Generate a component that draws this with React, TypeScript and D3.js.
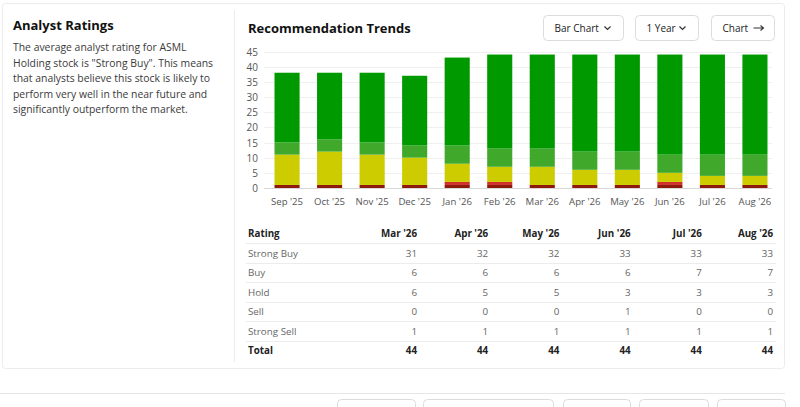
import React, { useRef, useEffect } from "react";
import * as d3 from "d3";

// Chart data
const months = [
  "Sep '25", "Oct '25", "Nov '25", "Dec '25", "Jan '26", "Feb '26",
  "Mar '26", "Apr '26", "May '26", "Jun '26", "Jul '26", "Aug '26",
];
const strongBuy = [23, 22, 23, 23, 29, 31, 31, 32, 32, 33, 33, 33];
const buy = [4, 4, 4, 4, 6, 6, 6, 6, 6, 6, 7, 7];
const hold = [10, 11, 10, 9, 6, 5, 6, 5, 5, 3, 3, 3];
const sell = [0, 0, 0, 0, 1, 1, 0, 0, 0, 1, 0, 0];
const strongSell = [1, 1, 1, 1, 1, 1, 1, 1, 1, 1, 1, 1];
const yTicks = [0, 5, 10, 15, 20, 25, 30, 35, 40, 45];

const ratingNames = ["Strong Buy", "Buy", "Hold", "Sell", "Strong Sell"];
const ratingSeries = [strongBuy, buy, hold, sell, strongSell];
const ratingColors = ["#009a00", "#40a92c", "#cccc00", "#d0312d", "#8e1a0e"];
const buttonLabels = ["Bar Chart", "1 Year", "Chart"];

const description = [
  "The average analyst rating for ASML",
  "Holding stock is \"Strong Buy\". This means",
  "that analysts believe this stock is likely to",
  "perform very well in the near future and",
  "significantly outperform the market.",
];

const font = "'Open Sans', 'Noto Sans', sans-serif";

const App: React.FC = () => {
  const svgRef = useRef<SVGSVGElement | null>(null);

  useEffect(() => {
    if (!svgRef.current) return;
    const svg = d3.select(svgRef.current);
    svg.selectAll("*").remove();

    // Card + dividers
    svg.append("rect").attr("x", 2.5).attr("y", 3.5).attr("width", 782).attr("height", 365)
      .attr("rx", 3).attr("fill", "#fff").attr("stroke", "#ececec");
    svg.append("line").attr("x1", 234.5).attr("x2", 234.5).attr("y1", 10).attr("y2", 362)
      .attr("stroke", "#ececec");
    svg.append("line").attr("x1", 0).attr("x2", 785).attr("y1", 393.5).attr("y2", 393.5)
      .attr("stroke", "#e6e6e6");

    // Bottom buttons (partly out of view)
    const bottomBtns = [[337, 415], [423, 553], [563, 630], [639, 708], [717, 785]];
    svg.append("g").selectAll("rect").data(bottomBtns).enter().append("rect")
      .attr("x", (d) => d[0] + 0.5).attr("y", 399.5)
      .attr("width", (d) => d[1] - d[0]).attr("height", 30)
      .attr("rx", 4).attr("fill", "#fff").attr("stroke", "#dcdcdc");

    // Left panel
    svg.append("text").attr("x", 13).attr("y", 30).text("Analyst Ratings")
      .attr("font-family", font).attr("font-size", 13).attr("font-weight", 700).attr("fill", "#111");
    svg.append("g").selectAll("text").data(description).enter().append("text")
      .attr("x", 13).attr("y", (_d, i) => 51 + i * 15.6)
      .text((d) => d)
      .attr("font-family", font).attr("font-size", 10.4).attr("fill", "#3a3a3a");

    // Title
    svg.append("text").attr("x", 248).attr("y", 33).text("Recommendation Trends")
      .attr("font-family", font).attr("font-size", 13).attr("font-weight", 700).attr("fill", "#111");

    // Top buttons
    const btnX = [543, 635, 711];
    const btnW = [80, 63, 63];
    const btn = svg.append("g").selectAll("g").data(buttonLabels).enter().append("g")
      .attr("transform", (_d, i) => `translate(${btnX[i] + 0.5},15.5)`);
    btn.append("rect").attr("width", (_d, i) => btnW[i]).attr("height", 25).attr("rx", 4)
      .attr("fill", "#fff").attr("stroke", "#dcdcdc");
    btn.append("text")
      .attr("x", 11)
      .attr("y", 16.3)
      .text((d) => d)
      .attr("font-family", font).attr("font-size", 10).attr("fill", "#222");
    btn.filter((_d, i) => i < 2).append("path")
      .attr("d", (_d, i) => {
        const cx = btnW[i] - 16;
        return `M${cx - 3},11 L${cx},14 L${cx + 3},11`;
      })
      .attr("fill", "none").attr("stroke", "#333").attr("stroke-width", 1.2);
    // arrow on the last button
    btn.filter((_d, i) => i === 2).append("path")
      .attr("d", "M42,12.5 L52,12.5 M49,10 L52,12.5 L49,15")
      .attr("fill", "none").attr("stroke", "#333").attr("stroke-width", 1.1);

    // Scales
    const x = d3.scaleBand<string>().domain(months).range([266, 776])
      .paddingInner(0.41).paddingOuter(0.2);
    const y = d3.scaleLinear().domain([0, 45]).range([188, 51.5]);

    // Grid
    svg.append("g").selectAll("line").data(yTicks).enter().append("line")
      .attr("x1", 264).attr("x2", 772)
      .attr("y1", (d) => Math.round(y(d)) + 0.5).attr("y2", (d) => Math.round(y(d)) + 0.5)
      .attr("stroke", (d) => (d === 0 ? "#d8d8d8" : "#efefef"));

    // Y axis labels
    svg.append("g").selectAll("text").data(yTicks).enter().append("text")
      .attr("x", 258).attr("y", (d) => y(d) + 4)
      .attr("text-anchor", "end").text((d) => d)
      .attr("font-family", font).attr("font-size", 10).attr("fill", "#555");

    // Stacked bars
    const rows = months.map((m, i) => ({
      month: m,
      "Strong Sell": strongSell[i],
      Sell: sell[i],
      Hold: hold[i],
      Buy: buy[i],
      "Strong Buy": strongBuy[i],
    }));
    const keys = ["Strong Sell", "Sell", "Hold", "Buy", "Strong Buy"];
    const stack = d3.stack<any>().keys(keys)(rows);
    const color = d3.scaleOrdinal<string, string>().domain(ratingNames).range(ratingColors);

    svg.append("g").selectAll("g").data(stack).enter().append("g")
      .attr("fill", (d) => color(d.key))
      .selectAll("rect").data((d) => d).enter().append("rect")
      .attr("x", (d: any) => x(d.data.month)!)
      .attr("y", (d) => y(d[1]))
      .attr("width", x.bandwidth())
      .attr("height", (d) => y(d[0]) - y(d[1]));

    // X axis labels
    svg.append("g").selectAll("text").data(months).enter().append("text")
      .attr("x", (d) => x(d)! + x.bandwidth() / 2).attr("y", 205)
      .attr("text-anchor", "middle").text((d) => d)
      .attr("font-family", font).attr("font-size", 9.6).attr("fill", "#555");

    // Table
    const tableMonths = months.slice(-6);
    const col = d3.scalePoint<string>().domain(tableMonths).range([417, 773]);
    const rowY = d3.scaleLinear().domain([0, 1]).range([237, 256.5]);
    const table = svg.append("g").attr("font-family", font).attr("font-size", 9.8);

    table.append("text").attr("x", 248).attr("y", rowY(0)).text("Rating")
      .attr("font-weight", 700).attr("fill", "#222");
    table.selectAll(".hdr").data(tableMonths).enter().append("text")
      .attr("x", (d) => col(d)!).attr("y", rowY(0)).attr("text-anchor", "end")
      .text((d) => d).attr("font-weight", 700).attr("fill", "#222");

    const sepY = d3.range(6).map((i) => rowY(i) + 6);
    table.selectAll(".sep").data(sepY).enter().append("line")
      .attr("x1", 246).attr("x2", 776)
      .attr("y1", (d) => Math.round(d) + 0.5).attr("y2", (d) => Math.round(d) + 0.5)
      .attr("stroke", "#ececec");

    ratingNames.forEach((name, r) => {
      const vals = ratingSeries[r].slice(-6);
      table.append("text").attr("x", 248).attr("y", rowY(r + 1)).text(name).attr("fill", "#666");
      table.selectAll(`.r${r}`).data(vals).enter().append("text")
        .attr("x", (_d, i) => col(tableMonths[i])!).attr("y", rowY(r + 1))
        .attr("text-anchor", "end").text((d) => d).attr("fill", "#666");
    });

    const totals = tableMonths.map((_m, i) =>
      d3.sum(ratingSeries, (s) => s.slice(-6)[i])
    );
    table.append("text").attr("x", 248).attr("y", rowY(6)).text("Total")
      .attr("font-weight", 700).attr("fill", "#222");
    table.selectAll(".tot").data(totals).enter().append("text")
      .attr("x", (_d, i) => col(tableMonths[i])!).attr("y", rowY(6))
      .attr("text-anchor", "end").text((d) => d).attr("font-weight", 700).attr("fill", "#222");
  }, []);

  return (
    <svg
      ref={svgRef}
      width={800}
      height={407}
      style={{ position: "absolute", left: 0, top: 0, background: "#fff" }}
    />
  );
};

export default App;
